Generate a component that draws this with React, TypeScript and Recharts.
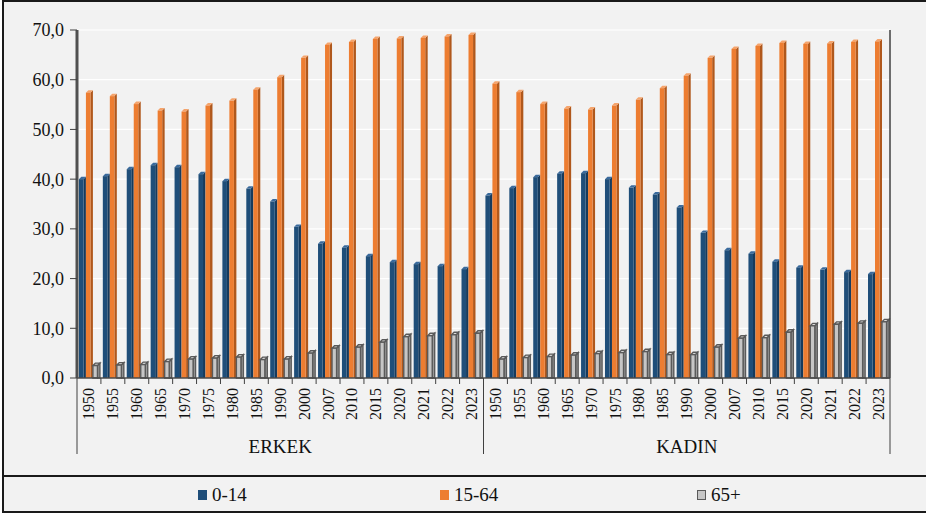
import { BarChart, Bar, XAxis, YAxis, CartesianGrid } from 'recharts'

const groups = ['ERKEK', 'KADIN']
const years = ['1950', '1955', '1960', '1965', '1970', '1975', '1980', '1985', '1990', '2000', '2007', '2010', '2015', '2020', '2021', '2022', '2023']

const erkek014 = [40.0, 40.6, 42.0, 42.8, 42.4, 41.0, 39.6, 38.1, 35.5, 30.4, 27.0, 26.2, 24.5, 23.3, 22.9, 22.5, 21.9]
const erkek1564 = [57.4, 56.7, 55.1, 53.8, 53.6, 54.8, 55.8, 58.0, 60.5, 64.4, 67.0, 67.6, 68.2, 68.3, 68.4, 68.7, 69.0]
const erkek65 = [2.5, 2.6, 2.7, 3.3, 3.8, 4.0, 4.2, 3.7, 3.8, 5.0, 6.0, 6.2, 7.2, 8.3, 8.5, 8.7, 9.0]
const kadin014 = [36.7, 38.2, 40.4, 41.1, 41.2, 40.0, 38.3, 36.9, 34.3, 29.2, 25.7, 25.0, 23.4, 22.2, 21.8, 21.3, 20.9]
const kadin1564 = [59.2, 57.5, 55.1, 54.2, 54.0, 54.8, 56.0, 58.3, 60.8, 64.4, 66.2, 66.8, 67.4, 67.2, 67.3, 67.6, 67.7]
const kadin65 = [3.8, 4.1, 4.3, 4.6, 4.9, 5.1, 5.3, 4.7, 4.7, 6.2, 8.0, 8.1, 9.2, 10.5, 10.8, 11.0, 11.3]

const seriesNames = ['0-14', '15-64', '65+']
const yTicks = [0, 10, 20, 30, 40, 50, 60, 70]

const valuesByGroup = [
  [erkek014, erkek1564, erkek65],
  [kadin014, kadin1564, kadin65],
]

const data = groups.flatMap((g, gi) =>
  years.map((yr, i) => ({
    key: `${g}-${yr}`,
    group: g,
    year: yr,
    [seriesNames[0]]: valuesByGroup[gi][0][i],
    [seriesNames[1]]: valuesByGroup[gi][1][i],
    [seriesNames[2]]: valuesByGroup[gi][2][i],
  })),
)

const serif = '"Liberation Serif", "Times New Roman", serif'

const styles = [
  { fill: '#1f4e79', side: '#163a5c', top: '#3a6a9c', stroke: 'none' },
  { fill: '#ed7d31', side: '#b0581c', top: '#f5a46c', stroke: 'none' },
  { fill: '#c6c6c6', side: '#9a9a9a', top: '#dedede', stroke: '#5a5a5a' },
]

const make3D = (s: typeof styles[number]) => (props: any) => {
  const { x, y, width, height } = props
  if (!height || height <= 0) return <g />
  const d = Math.min(2.5, width * 0.35)
  const fw = width - d
  const sw = s.stroke === 'none' ? 0 : 1.4
  const st = s.stroke === 'none' ? undefined : s.stroke
  return (
    <g>
      <polygon
        points={`${x + fw},${y} ${x + width},${y - d} ${x + width},${y + height} ${x + fw},${y + height}`}
        fill={s.side}
        stroke={st}
        strokeWidth={sw}
      />
      <polygon
        points={`${x},${y} ${x + d},${y - d} ${x + width},${y - d} ${x + fw},${y}`}
        fill={s.top}
        stroke={st}
        strokeWidth={sw}
      />
      <rect x={x} y={y} width={fw} height={height} fill={s.fill} stroke={st} strokeWidth={sw} />
    </g>
  )
}

const YearTick = (props: any) => {
  const { x, y, payload, index } = props
  const i = payload?.index ?? index
  const row = data[i]
  const half = payload?.offset || 11.95
  const per = years.length
  const isGroupStart = i % per === 0
  const isLast = i === data.length - 1
  const isGroupMid = i % per === Math.floor(per / 2)
  return (
    <g>
      <line x1={x - half} x2={x - half} y1={y} y2={y + (isGroupStart ? 76 : 6)} stroke="#404040" strokeWidth={1} />
      {isLast && <line x1={x + half} x2={x + half} y1={y} y2={y + 76} stroke="#404040" strokeWidth={1} />}
      <text
        transform={`translate(${x + 5.5}, ${y + 10}) rotate(-90)`}
        textAnchor="end"
        fontFamily={serif}
        fontSize={16}
        fill="#111"
      >
        {row?.year}
      </text>
      {isGroupMid && (
        <text x={x} y={y + 75} textAnchor="middle" fontFamily={serif} fontSize={19} fill="#111">
          {row?.group}
        </text>
      )}
    </g>
  )
}

export default function App() {
  return (
    <div style={{ position: 'absolute', left: 0, top: 0, width: 926, height: 515, background: '#fff', overflow: 'hidden' }}>
      <div
        style={{
          position: 'absolute',
          left: 2,
          top: 0,
          width: 940,
          height: 513,
          boxSizing: 'border-box',
          border: '2px solid #1a1a1a',
          background: '#f2f2f2',
        }}
      />
      <div style={{ position: 'absolute', left: 2, top: 475, width: 940, height: 2, background: '#1a1a1a' }} />
      <div style={{ position: 'absolute', left: 0, top: 0 }}>
        <BarChart
          width={926}
          height={476}
          data={data}
          margin={{ top: 30, right: 32, left: 17, bottom: 18 }}
          barCategoryGap="8%"
          barGap={0}
        >
          <CartesianGrid vertical={false} stroke="#ffffff" strokeWidth={1.2} yAxisId="left" />
          <XAxis
            dataKey="key"
            interval={0}
            height={80}
            tickLine={false}
            tickSize={0}
            tickMargin={0}
            axisLine={{ stroke: '#4a4a4a', strokeWidth: 1.5 }}
            tick={<YearTick />}
          />
          <YAxis
            yAxisId="left"
            width={60}
            domain={[0, 70]}
            ticks={yTicks}
            interval={0}
            tickFormatter={(v: number) => v.toFixed(1).replace('.', ',')}
            tick={{ fontFamily: serif, fontSize: 18, fill: '#111' }}
            tickSize={7}
            tickMargin={6}
            tickLine={{ stroke: '#404040' }}
            axisLine={{ stroke: '#505050', strokeWidth: 3 }}
          />
          <YAxis
            yAxisId="right"
            orientation="right"
            width={4}
            domain={[0, 70]}
            ticks={yTicks}
            tick={false}
            tickLine={false}
            axisLine={{ stroke: '#404040', strokeWidth: 1.5 }}
          />
          {seriesNames.map((name, si) => (
            <Bar
              key={name}
              yAxisId="left"
              dataKey={name}
              fill={styles[si].fill}
              isAnimationActive={false}
              shape={make3D(styles[si])}
            />
          ))}
        </BarChart>
      </div>
      {seriesNames.map((name, si) => (
        <div
          key={name}
          style={{
            position: 'absolute',
            left: [198, 440, 697][si],
            top: 484,
            display: 'flex',
            alignItems: 'center',
            fontFamily: serif,
            fontSize: 19,
            color: '#111',
          }}
        >
          <span
            style={{
              display: 'inline-block',
              width: si === 2 ? 7 : 9,
              height: si === 2 ? 8 : 10,
              marginRight: 5,
              background: styles[si].fill,
              border: si === 2 ? '1px solid #5a5a5a' : 'none',
            }}
          />
          {name}
        </div>
      ))}
    </div>
  )
}
